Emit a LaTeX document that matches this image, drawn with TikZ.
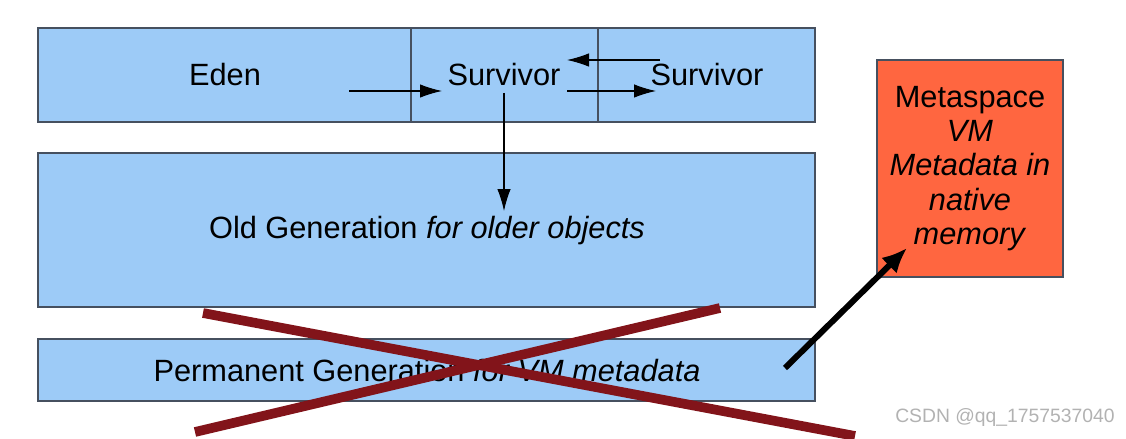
\documentclass[tikz,border=0pt]{standalone}
\usepackage{fontspec}
\setmainfont{Liberation Sans}
\usetikzlibrary{arrows.meta}
\definecolor{heapblue}{RGB}{157,203,247}
\definecolor{heapline}{RGB}{70,80,95}
\definecolor{metared}{RGB}{255,102,64}
\definecolor{crossred}{RGB}{130,20,26}
\tikzset{
  heapbox/.style={draw=heapline,fill=heapblue,line width=0.8pt},
  lbl/.style={font=\fontsize{17.5}{20}\selectfont,inner sep=0pt},
  flow/.style={-{Latex[length=4.4mm,width=2.7mm]},line width=0.6pt},
  metabox/.style={draw=heapline,fill=metared,line width=0.8pt,minimum width=3.72cm,
    minimum height=4.34cm,align=center,font=\fontsize{17.5}{19.6}\selectfont,inner sep=0pt},
}
\begin{document}
\begin{tikzpicture}[x=0.02cm,y=-0.02cm]
    \useasboundingbox (0,0) rectangle (1126,439);
    %% young generation
    \draw[heapbox] (38,28) rectangle (815,122);
    \draw[heapline,line width=0.8pt] (411,28) -- (411,122);
    \draw[heapline,line width=0.8pt] (598,28) -- (598,122);
    \node[lbl] (eden) at (225,75) {Eden};
    \node[lbl] (surv1) at (504,75) {Survivor};
    \node[lbl] (surv2) at (707,75) {Survivor};
    %% old generation
    \draw[heapbox] (38,153) rectangle (815,307);
    \node[lbl] (old) at (427,231) {Old Generation \textit{for older objects}};
    %% permanent generation
    \draw[heapbox] (38,339) rectangle (815,401);
    \node[lbl] (perm) at (427,371) {Permanent Generation \textit{for VM metadata}};
    %% metaspace
    \node[metabox] (meta) at (970,168.5) {Metaspace\\\textit{VM}\\\textit{Metadata in}\\\textit{native}\\\textit{memory}};
    %% arrow ends
    \coordinate (edenout) at (349,91);
    \coordinate (s1in) at (442,91);
    \coordinate (s1out) at (567,91);
    \coordinate (s2in) at (656,91);
    \coordinate (s2back) at (660,60);
    \coordinate (s1back) at (567,60);
    \coordinate (s1down) at (504,93);
    \coordinate (oldin) at (504,211);
    \coordinate (permout) at (785,368);
    \coordinate (metain) at (907,248);
    %% arrows
    \draw[flow] (edenout) -- (s1in);
    \draw[flow] (s1out) -- (s2in);
    \draw[flow] (s2back) -- (s1back);
    \draw[flow] (s1down) -- (oldin);
    \draw[-{Latex[length=5mm,width=4.4mm]},line width=3.4pt] (permout) -- (metain);
    %% cross
    \draw[crossred,line width=5.5pt] (203,313) -- (855,436);
    \draw[crossred,line width=5.5pt] (195,432) -- (720,308);
    %% watermark
    \node[font=\fontsize{11}{13}\selectfont,text=black!30,inner sep=0pt] (mark) at (1005,418) {CSDN @qq\_1757537040};
\end{tikzpicture}
\end{document}
